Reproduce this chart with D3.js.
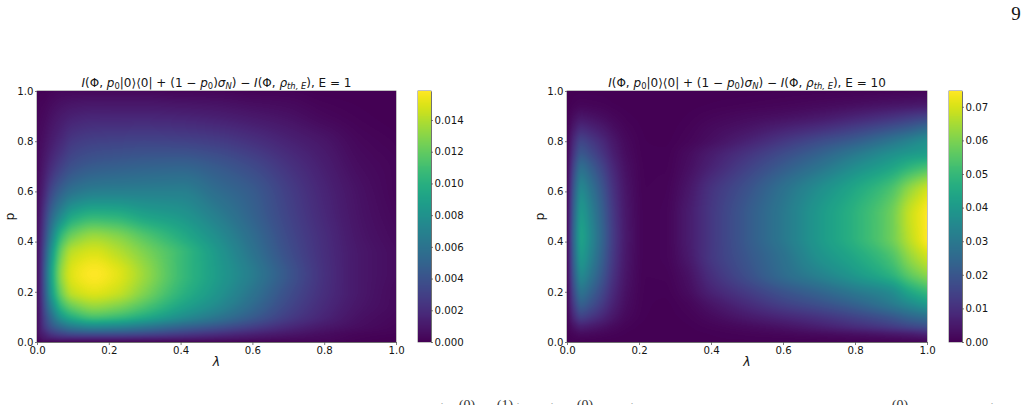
<!DOCTYPE html>
<html>
<head>
<meta charset="utf-8">
<script src="https://cdn.jsdelivr.net/npm/d3@7/dist/d3.min.js"></script>
<style>
  html, body { margin: 0; padding: 0; background: #fff; overflow: hidden; }
  #page { position: relative; width: 1027px; height: 405px; overflow: hidden; }
  canvas { position: absolute; }
  svg { position: absolute; left: 0; top: 0; }
  text { font-family: "DejaVu Sans", sans-serif; fill: #151515; }
</style>
</head>
<body>
<div id="page"></div>
<script>
// Sample positions and readings for the E = 1 panel (rows run over p, columns over lambda).
const lambdaE1 = [0, .01, .02, .04, .07, .1, .16, .22, .3, .4, .5, .6, .7, .8, .9, 1];
const pE1 = [0, .01, .03, .06, .1, .15, .2, .27, .35, .42, .5, .6, .7, .8, .9, 1];
const valuesE1 = [
  [0.0000,0.0001,0.0002,0.0002,0.0003,0.0003,0.0003,0.0003,0.0003,0.0002,0.0002,0.0001,0.0001,0.0001,0.0000,0.0000],
  [0.0002,0.0005,0.0008,0.0010,0.0012,0.0012,0.0012,0.0012,0.0011,0.0010,0.0008,0.0006,0.0004,0.0003,0.0001,0.0000],
  [0.0004,0.0010,0.0014,0.0023,0.0030,0.0034,0.0036,0.0035,0.0032,0.0026,0.0020,0.0014,0.0009,0.0005,0.0002,0.0001],
  [0.0005,0.0014,0.0024,0.0040,0.0055,0.0065,0.0072,0.0070,0.0062,0.0050,0.0040,0.0029,0.0018,0.0010,0.0005,0.0002],
  [0.0005,0.0016,0.0030,0.0055,0.0085,0.0100,0.0112,0.0108,0.0096,0.0078,0.0062,0.0045,0.0028,0.0016,0.0007,0.0003],
  [0.0006,0.0018,0.0036,0.0072,0.0110,0.0126,0.0136,0.0131,0.0116,0.0094,0.0076,0.0055,0.0034,0.0019,0.0009,0.0004],
  [0.0006,0.0020,0.0040,0.0085,0.0126,0.0144,0.0151,0.0146,0.0128,0.0103,0.0083,0.0061,0.0038,0.0021,0.0010,0.0004],
  [0.0006,0.0020,0.0042,0.0090,0.0134,0.0151,0.0158,0.0152,0.0134,0.0108,0.0087,0.0066,0.0042,0.0022,0.0010,0.0005],
  [0.0006,0.0019,0.0038,0.0082,0.0126,0.0144,0.0150,0.0143,0.0128,0.0108,0.0085,0.0061,0.0038,0.0021,0.0010,0.0005],
  [0.0006,0.0017,0.0032,0.0068,0.0108,0.0125,0.0135,0.0130,0.0116,0.0098,0.0078,0.0056,0.0035,0.0020,0.0009,0.0004],
  [0.0005,0.0014,0.0026,0.0052,0.0078,0.0095,0.0104,0.0102,0.0092,0.0084,0.0068,0.0050,0.0032,0.0018,0.0008,0.0003],
  [0.0004,0.0010,0.0017,0.0034,0.0050,0.0060,0.0067,0.0068,0.0068,0.0068,0.0056,0.0045,0.0029,0.0016,0.0007,0.0002],
  [0.0003,0.0007,0.0011,0.0020,0.0031,0.0039,0.0045,0.0047,0.0049,0.0050,0.0044,0.0035,0.0023,0.0013,0.0005,0.0002],
  [0.0003,0.0005,0.0007,0.0012,0.0019,0.0026,0.0030,0.0031,0.0032,0.0031,0.0028,0.0022,0.0015,0.0009,0.0003,0.0001],
  [0.0002,0.0003,0.0004,0.0007,0.0011,0.0014,0.0016,0.0016,0.0016,0.0015,0.0013,0.0010,0.0007,0.0003,0.0001,0.0000],
  [0.0000,0.0001,0.0001,0.0002,0.0003,0.0003,0.0003,0.0003,0.0003,0.0002,0.0002,0.0001,0.0001,0.0000,0.0000,0.0000]
];

// Sample positions and readings for the E = 10 panel.
const lambdaE10 = [0, .01, .02, .04, .07, .1, .13, .17, .22, .27, .33, .4, .5, .6, .7, .8, .9, .95, 1];
const pE10 = [0, .01, .03, .06, .1, .15, .2, .27, .35, .42, .5, .6, .7, .75, .8, .85, .9, .95, 1];
const valuesE10 = [
  [0,0,.0001,.0002,.0002,.0001,.0001,0,0,0,0,.0001,.0001,.0002,.0003,.0004,.0006,.0008,.001],
  [0,.0002,.0004,.0006,.0005,.0003,.0002,.0001,0,0,0,.0002,.0003,.0004,.0006,.001,.0015,.002,.0025],
  [.0001,.0007,.0012,.002,.0016,.0011,.0006,.0002,0,0,.0001,.0003,.0007,.0012,.002,.003,.0045,.0055,.007],
  [.0002,.002,.0037,.006,.0048,.0033,.0018,.0006,.0001,0,.0002,.0008,.002,.0036,.006,.009,.0125,.015,.017],
  [.0004,.0046,.0087,.014,.0112,.0077,.0042,.0014,.0003,.0001,.0005,.002,.005,.008,.011,.015,.02,.024,.027],
  [.0007,.0073,.0136,.022,.0176,.0121,.0066,.0022,.0004,.0002,.001,.004,.009,.014,.018,.023,.03,.035,.04],
  [.0009,.0092,.0174,.028,.0224,.0154,.0084,.0028,.0005,.0004,.002,.007,.013,.019,.024,.03,.036,.044,.05],
  [.0012,.0116,.0217,.035,.028,.0193,.0105,.0035,.0006,.0007,.003,.01,.018,.026,.033,.04,.048,.056,.062],
  [.0014,.0132,.0248,.04,.032,.022,.012,.004,.0007,.001,.0045,.012,.02,.028,.038,.045,.054,.063,.07],
  [.0015,.0139,.026,.042,.0336,.0231,.0126,.0042,.0007,.001,.005,.012,.021,.03,.04,.048,.058,.067,.0747],
  [.0014,.0132,.0248,.04,.032,.022,.012,.004,.0007,.001,.005,.012,.021,.03,.04,.048,.058,.068,.0747],
  [.0012,.0116,.0217,.035,.028,.0193,.0105,.0035,.0006,.0008,.004,.011,.019,.028,.037,.045,.054,.063,.07],
  [.0009,.0086,.0161,.026,.0208,.0143,.0078,.0026,.0005,.0005,.0025,.007,.014,.021,.028,.036,.043,.048,.052],
  [.0007,.0066,.0124,.02,.016,.011,.006,.002,.0004,.0004,.002,.0055,.011,.017,.023,.03,.037,.04,.042],
  [.0005,.005,.0093,.015,.012,.0083,.0045,.0015,.0003,.0002,.001,.003,.007,.012,.017,.022,.029,.033,.037],
  [.0003,.003,.0056,.009,.0072,.005,.0027,.0009,.0002,.0001,.0006,.002,.004,.007,.01,.014,.019,.022,.026],
  [.0002,.0013,.0025,.004,.0032,.0022,.0012,.0004,.0001,0,.0003,.001,.002,.003,.0045,.007,.01,.012,.014],
  [.0001,.0003,.0006,.001,.0008,.0006,.0003,.0001,0,0,.0001,.0003,.0006,.001,.0016,.0024,.0035,.004,.0045],
  [0,0,.0001,.0001,.0001,.0001,0,0,0,0,0,.0001,.0001,.0002,.0003,.0004,.0006,.0008,.001]
];

const axisTicks = [0, .2, .4, .6, .8, 1];
const colorTicksE1 = [0, .002, .004, .006, .008, .01, .012, .014];
const colorTicksE10 = [0, .01, .02, .03, .04, .05, .06, .07];
const colorMaxE1 = 0.01583;
const colorMaxE10 = 0.0747;

const page = d3.select("#page");
const svg = page.append("svg").attr("width", 1027).attr("height", 405);

// Shape-preserving cubic between samples, so the heat field has no visible creases.
function monotoneInterpolator(xs) {
  const n = xs.length;
  const h = d3.pairs(xs, (a, b) => b - a);
  return (ys, x) => {
    const i = Math.min(n - 2, Math.max(0, d3.bisectRight(xs, x) - 1));
    const slope = k => (ys[k + 1] - ys[k]) / h[k];
    const tangent = k => {
      if (k === 0) return slope(0);
      if (k === n - 1) return slope(n - 2);
      const a = slope(k - 1), b = slope(k);
      if (a * b <= 0) return 0;
      const w1 = 2 * h[k] + h[k - 1], w2 = h[k] + 2 * h[k - 1];
      return (w1 + w2) / (w1 / a + w2 / b);
    };
    const t = (x - xs[i]) / h[i], t2 = t * t, t3 = t2 * t;
    return (2 * t3 - 3 * t2 + 1) * ys[i] + (t3 - 2 * t2 + t) * h[i] * tangent(i)
         + (-2 * t3 + 3 * t2) * ys[i + 1] + (t3 - t2) * h[i] * tangent(i + 1);
  };
}

function mathTitle(g, x, energy) {
  const t = g.append("text").attr("x", x).attr("y", 87)
    .attr("text-anchor", "middle").style("font-size", "12px");
  const part = (s, opts = {}) => {
    const sp = t.append("tspan").text(s);
    if (opts.i) sp.style("font-style", "italic");
    if (opts.sub) sp.attr("dy", "0.22em").style("font-size", "8.4px");
    if (opts.up) sp.attr("dy", "-0.154em");
    return sp;
  };
  part("I", { i: 1 }); part("(Φ, "); part("p", { i: 1 }); part("0", { sub: 1 });
  part("|0⟩⟨0| + (1 − ", { up: 1 }); part("p", { i: 1 }); part("0", { sub: 1 });
  part(")", { up: 1 }); part("σ", { i: 1 }); part("N", { i: 1, sub: 1 });
  part(") − ", { up: 1 }); part("I", { i: 1 }); part("(Φ, "); part("ρ", { i: 1 });
  part("th, E", { i: 1, sub: 1 }); part("), E = " + energy, { up: 1 });
}

function panel({ x0, x1, barX0, lambdas, ps, values, colorMax, colorTicks, energy, fmt }) {
  const yTop = 91, yBottom = 342;
  const x = d3.scaleLinear().domain([0, 1]).range([x0, x1]);
  const y = d3.scaleLinear().domain([0, 1]).range([yBottom, yTop]);
  const color = d3.scaleSequential(d3.interpolateViridis).domain([0, colorMax]);

  // Heat field, painted pixel by pixel from the sampled table.
  const w = x1 - x0, h = yBottom - yTop;
  const canvas = page.append("canvas").attr("width", w).attr("height", h)
    .style("left", x0 + "px").style("top", yTop + "px").node();
  const ctx = canvas.getContext("2d");
  const img = ctx.createImageData(w, h);
  const alongLambda = monotoneInterpolator(lambdas);
  const alongP = monotoneInterpolator(ps);
  for (let i = 0; i < w; i++) {
    const lam = x.invert(x0 + i + .5);
    const col = values.map(row => alongLambda(row, lam));
    for (let j = 0; j < h; j++) {
      const c = d3.rgb(color(Math.max(0, alongP(col, y.invert(yTop + j + .5)))));
      const k = 4 * (j * w + i);
      img.data[k] = c.r; img.data[k + 1] = c.g; img.data[k + 2] = c.b; img.data[k + 3] = 255;
    }
  }
  ctx.putImageData(img, 0, 0);

  const g = svg.append("g");
  const style = sel => {
    sel.selectAll("text").style("font-size", "10.2px");
    sel.selectAll("line").attr("stroke", "#444").attr("stroke-width", .7);
    sel.select(".domain").attr("stroke", "#555").attr("stroke-width", .8);
  };
  g.append("g").attr("transform", `translate(0,${yBottom})`)
    .call(d3.axisBottom(x).tickValues(axisTicks).tickFormat(d3.format(".1f")).tickSize(3).tickPadding(2).tickSizeOuter(0)).call(style);
  g.append("g").attr("transform", `translate(${x0},0)`)
    .call(d3.axisLeft(y).tickValues(axisTicks).tickFormat(d3.format(".1f")).tickSize(2).tickPadding(1.5).tickSizeOuter(0)).call(style);
  g.append("rect").attr("x", x0).attr("y", yTop).attr("width", w).attr("height", h)
    .attr("fill", "none").attr("stroke", "#666").attr("stroke-width", .8);

  mathTitle(g, (x0 + x1) / 2, energy);
  g.append("text").attr("x", (x0 + x1) / 2).attr("y", 366).attr("text-anchor", "middle")
    .style("font-size", "12.5px").style("font-style", "italic").text("λ");
  g.append("text").attr("transform", `translate(${x0 - 23.5},${(yTop + yBottom) / 2}) rotate(-90)`)
    .attr("text-anchor", "middle").style("font-size", "12.5px").text("p");

  // Colour bar with its gradient sampled from the same scale.
  const barW = 13;
  const cScale = d3.scaleLinear().domain([0, colorMax]).range([yBottom, yTop]);
  const bar = page.append("canvas").attr("width", barW).attr("height", h)
    .style("left", barX0 + "px").style("top", yTop + "px").node().getContext("2d");
  for (let j = 0; j < h; j++) {
    bar.fillStyle = color(cScale.invert(yTop + j + .5));
    bar.fillRect(0, j, barW, 1);
  }
  g.append("g").attr("transform", `translate(${barX0 + barW},0)`)
    .call(d3.axisRight(cScale).tickValues(colorTicks).tickFormat(d3.format(fmt)).tickSize(2).tickPadding(1.5).tickSizeOuter(0)).call(style);
  g.append("rect").attr("x", barX0).attr("y", yTop).attr("width", barW).attr("height", h)
    .attr("fill", "none").attr("stroke", "#666").attr("stroke-width", .8);
}

panel({ x0: 37, x1: 396, barX0: 418, lambdas: lambdaE1, ps: pE1, values: valuesE1,
        colorMax: colorMaxE1, colorTicks: colorTicksE1, energy: "1", fmt: ".3f" });
panel({ x0: 567, x1: 927, barX0: 949, lambdas: lambdaE10, ps: pE10, values: valuesE10,
        colorMax: colorMaxE10, colorTicks: colorTicksE10, energy: "10", fmt: ".2f" });

// Page number of the surrounding document, and the line of text cut by the page edge.
svg.append("text").attr("x", 1016).attr("y", 20).attr("text-anchor", "middle")
  .style("font-family", "'Liberation Serif', serif").style("font-size", "19px").style("fill", "#111").text("9");
[[467, "(0)"], [505, "(1)"], [585, "(0)"], [900, "(0)"]].forEach(([cx, s]) => {
  svg.append("text").attr("x", cx).attr("y", 409.5).attr("text-anchor", "middle")
    .style("font-family", "'Liberation Serif', serif").style("font-size", "14px").style("fill", "#333").text(s);
});
[442, 518, 552, 632, 992].forEach(cx => {
  svg.append("text").attr("x", cx).attr("y", 406).attr("text-anchor", "middle")
    .style("font-family", "'Liberation Serif', serif").style("font-size", "9px").style("fill", "#777").text("·");
});
</script>
</body>
</html>
